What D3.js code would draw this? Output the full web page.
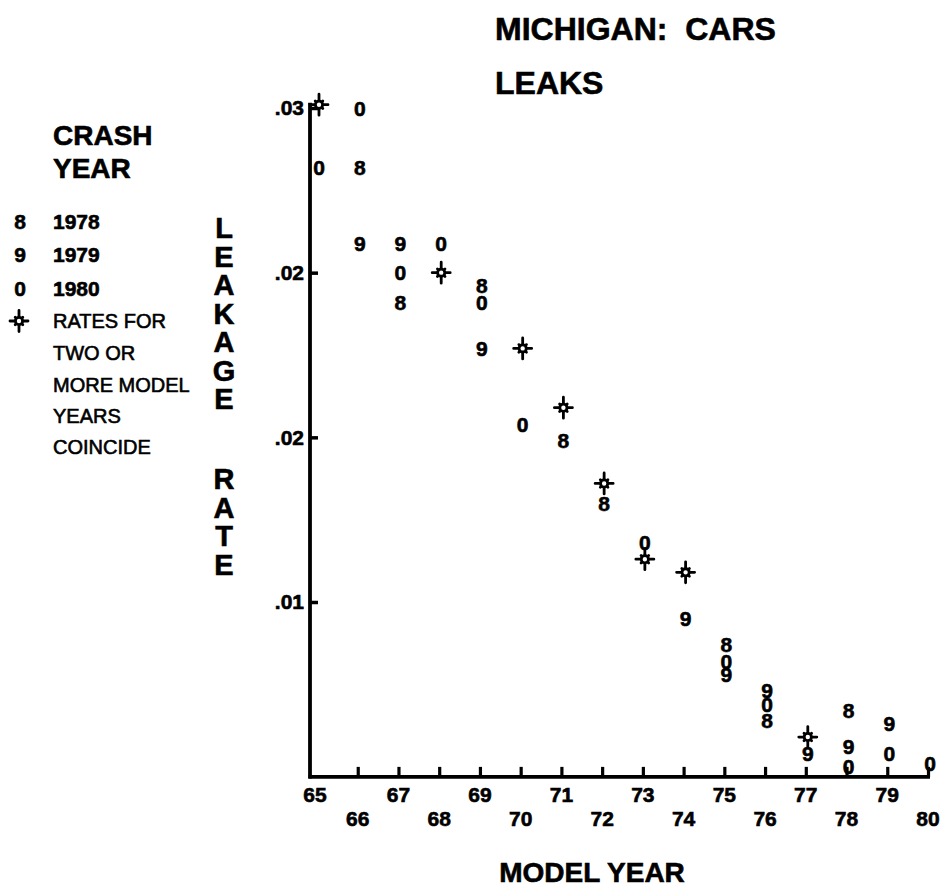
<!DOCTYPE html>
<html>
<head>
<meta charset="utf-8">
<script src="https://cdn.jsdelivr.net/npm/d3@7"></script>
<style>
  html, body { margin: 0; padding: 0; background: #fff; }
  svg { display: block; }
  text { font-family: "Liberation Sans", Arial, Helvetica, sans-serif; fill: #000; }
  .heavy { font-weight: bold; stroke: #000; stroke-width: 0.6px; }
</style>
</head>
<body>
<svg id="chart" width="941" height="889"></svg>
<script>
// Model years on the horizontal axis
const modelYears = [65, 66, 67, 68, 69, 70, 71, 72, 73, 74, 75, 76, 77, 78, 79, 80];

// Leakage rate by model year, one list per crash year (null = no data)
const rate1978 = [0.0301, 0.0282, 0.0241, 0.0250, 0.0246, 0.0227, 0.0199, 0.0180, 0.0163, 0.0159, 0.0137, 0.0114, 0.0109, 0.0117, null, null];
const rate1979 = [0.0301, 0.0259, 0.0259, 0.0250, 0.0227, 0.0227, 0.0209, 0.0186, 0.0163, 0.0145, 0.0128, 0.0123, 0.0104, 0.0106, 0.0113, null];
const rate1980 = [0.0282, 0.0300, 0.0250, 0.0259, 0.0241, 0.0204, 0.0209, 0.0186, 0.0168, 0.0159, 0.0132, 0.0119, 0.0109, 0.0100, 0.0104, 0.0101];

// Plotting symbol for each crash year
const crashYears = ["1978", "1979", "1980"];
const crashSymbols = ["8", "9", "0"];

// Vertical axis ticks and their printed labels
const yTickValues = [0.03, 0.025, 0.02, 0.015];
const yTickLabels = [".03", ".02", ".02", ".01"];

const legendNotes = ["RATES FOR", "TWO OR", "MORE MODEL", "YEARS", "COINCIDE"];

const svg = d3.select("#chart");

const x = d3.scaleLinear().domain([65, 80]).range([317, 928]);
const y = d3.scaleLinear().domain([0.015, 0.03]).range([602, 108]);
const yBottom = 0.00969, yTopEnd = 0.03016;
const axisX = 310;

// Star used where two or more crash years share a rate
function star(g, cx, cy) {
  const s = g.append("g").attr("transform", `translate(${cx},${cy})`);
  s.append("path")
    .attr("d", "M0,-10.5V10.5M-9,0H9M-3.8,-3.8L3.8,3.8M-3.8,3.8L3.8,-3.8")
    .attr("stroke", "#000").attr("stroke-width", 2.8).attr("stroke-linecap", "round");
  s.append("circle").attr("r", 3.6).attr("fill", "#fff")
    .attr("stroke", "#000").attr("stroke-width", 2.8);
}

// ---- Axes ----
const yAxis = d3.axisLeft(y)
  .tickValues(yTickValues)
  .tickFormat((d, i) => yTickLabels[i])
  .tickSizeInner(-8).tickSizeOuter(0).tickPadding(6);
const gy = svg.append("g").attr("transform", `translate(${axisX},0)`).call(yAxis);
gy.select(".domain").remove();
gy.selectAll(".tick line").attr("stroke", "#000").attr("stroke-width", 3.5);
gy.selectAll(".tick text")
  .attr("class", "heavy")
  .style("font-family", '"Liberation Sans", Arial, sans-serif')
  .style("font-size", "21px").attr("fill", "#000");

const baseY = y(yBottom);
const xAxis = d3.axisBottom(x)
  .tickValues(modelYears.slice(1))
  .tickFormat("")
  .tickSizeInner(-10).tickSizeOuter(0);
const gx = svg.append("g").attr("transform", `translate(0,${baseY})`).call(xAxis);
gx.select(".domain").remove();
gx.selectAll(".tick line").attr("stroke", "#000").attr("stroke-width", 3.2);

svg.append("line")
  .attr("x1", axisX).attr("x2", axisX)
  .attr("y1", y(yTopEnd)).attr("y2", baseY + 1.5)
  .attr("stroke", "#000").attr("stroke-width", 3.8);
svg.append("line")
  .attr("x1", axisX - 1.5).attr("x2", x(80) + 2)
  .attr("y1", baseY).attr("y2", baseY)
  .attr("stroke", "#000").attr("stroke-width", 3.8);

// Staggered model-year labels
svg.append("g").selectAll("text").data(modelYears).join("text")
  .attr("class", "heavy")
  .attr("x", d => d === 65 ? x(d) - 2 : x(d))
  .attr("y", (d, i) => baseY + (i % 2 === 0 ? 18 : 42))
  .attr("dy", "0.36em")
  .attr("text-anchor", "middle")
  .style("font-size", "21px")
  .text(d => d);

// ---- Points ----
const series = [rate1978, rate1979, rate1980];
const pointsLayer = svg.append("g");
modelYears.forEach((yr, i) => {
  // gather rates at this model year and group equal values
  const groups = d3.groups(
    series.map((s, k) => ({ k, v: s[i] })).filter(p => p.v != null),
    p => p.v
  );
  groups.forEach(([v, members]) => {
    if (members.length > 1) {
      star(pointsLayer, x(yr) + 2, y(v));
    } else {
      pointsLayer.append("text")
        .attr("class", "heavy")
        .attr("x", x(yr) + 2).attr("y", y(v))
        .attr("dy", "0.36em").attr("text-anchor", "middle")
        .style("font-size", "21px")
        .text(crashSymbols[members[0].k]);
    }
  });
});

// ---- Titles ----
svg.append("text").attr("class", "heavy").attr("x", 495).attr("y", 40)
  .style("font-size", "32px")
  .attr("xml:space", "preserve").text("MICHIGAN:  CARS");
svg.append("text").attr("class", "heavy").attr("x", 495).attr("y", 94)
  .style("font-size", "32px").text("LEAKS");

svg.append("text").attr("class", "heavy").attr("x", 592).attr("y", 882).attr("text-anchor", "middle")
  .style("font-size", "28px").text("MODEL YEAR");

// Vertical stacked axis title
const yTitle = "LEAKAGE RATE".split("");
let slot = 0;
yTitle.forEach(ch => {
  if (ch === " ") { slot += 1.8; return; }
  svg.append("text").attr("class", "heavy").attr("x", 224).attr("y", 228 + slot * 28.5)
    .attr("dy", "0.36em").attr("text-anchor", "middle")
    .style("font-size", "29px").text(ch);
  slot += 1;
});

// ---- Legend ----
svg.append("text").attr("class", "heavy").attr("x", 53).attr("y", 145)
  .style("font-size", "28px").text("CRASH");
svg.append("text").attr("class", "heavy").attr("x", 53).attr("y", 178)
  .style("font-size", "28px").text("YEAR");

const rowY = [221, 254, 288, 321, 353, 385, 416, 447];
crashYears.forEach((cy, i) => {
  svg.append("text").attr("class", "heavy").attr("x", 20).attr("y", rowY[i]).attr("dy", "0.36em")
    .attr("text-anchor", "middle")
    .style("font-size", "21px").text(crashSymbols[i]);
  svg.append("text").attr("class", "heavy").attr("x", 53).attr("y", rowY[i]).attr("dy", "0.36em")
    .style("font-size", "21px").text(cy);
});
star(svg, 19, rowY[3]);
legendNotes.forEach((t, i) => {
  svg.append("text").attr("x", 53).attr("y", rowY[3 + i]).attr("dy", "0.36em")
    .style("font-size", "20px").style("stroke", "#000").style("stroke-width", 0.6)
    .attr("xml:space", "preserve").text(t);
});
</script>
</body>
</html>
